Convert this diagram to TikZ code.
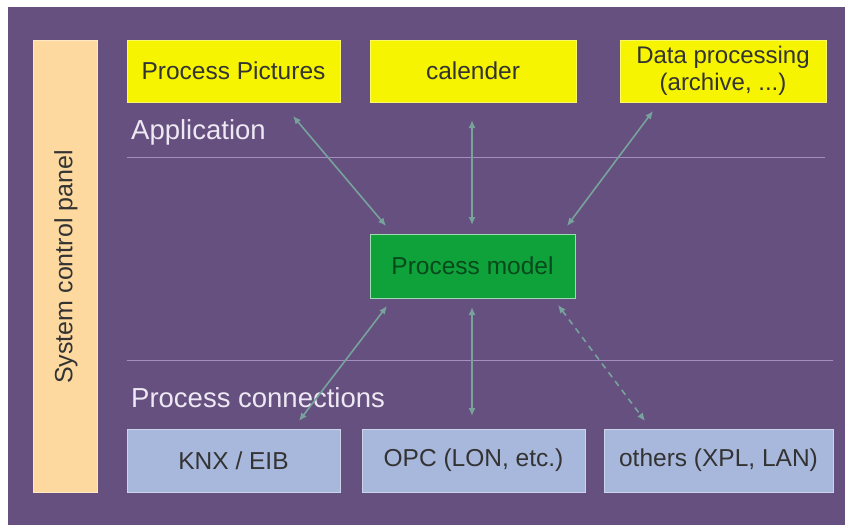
\documentclass[tikz,border=0pt]{standalone}
\usepackage{fontspec}
\setmainfont{Liberation Sans}
\usetikzlibrary{arrows.meta}
\definecolor{bgpurple}{HTML}{65507F}
\definecolor{peach}{HTML}{FDD9A0}
\definecolor{yel}{HTML}{F6F400}
\definecolor{grn}{HTML}{0FA23B}
\definecolor{lav}{HTML}{A8B8DC}
\definecolor{arr}{HTML}{77A39C}
\definecolor{txt}{HTML}{333333}
\definecolor{lbl}{HTML}{EEE8F4}
\definecolor{sep}{HTML}{A48DC0}
\tikzset{
  box/.style={draw=#1!60!white, line width=1pt, inner sep=0pt, text=txt, align=center, font=\fontsize{24.5}{27}\selectfont},
  ybox/.style={box=yel, fill=yel, minimum height=62pt},
  lbox/.style={box=lav, fill=lav, minimum height=63pt},
  seclabel/.style={anchor=west, text=lbl, inner sep=0pt, font=\fontsize{27.5}{30}\selectfont},
  link/.style={draw=arr, line width=1.6pt, {Latex[length=8pt,width=7pt]}-{Latex[length=8pt,width=7pt]}},
  sepline/.style={draw=sep, line width=1pt}
}
\begin{document}
\begin{tikzpicture}[x=1pt,y=-1pt]
\useasboundingbox (0,0) rectangle (845,525);
\fill[white] (0,0) rectangle (845,525);
\fill[bgpurple] (8,7) rectangle (845,525);
% system control panel
\node[box=peach, fill=peach, minimum width=64pt, minimum height=452pt] (scp) at (65,266) {};
\node[rotate=90, text=txt, font=\fontsize{25}{28}\selectfont] (scpt) at (66,267) {System control panel};
% top boxes
\node[ybox, minimum width=213pt] (pp) at (233.5,71) {Process Pictures};
\node[ybox, minimum width=206pt] (cal) at (473,71) {calender};
\node[ybox, minimum width=206pt, font=\fontsize{24}{27}\selectfont] (dp) at (723,71) {Data processing\\(archive, ...)};
% labels and separators
\node[seclabel] (app) at (131,132) {Application};
\coordinate (s1a) at (127,157);
\coordinate (s1b) at (825,157);
\draw[sepline] (s1a) -- (s1b);
\node[seclabel] (pc) at (131,398) {Process connections};
\coordinate (s2a) at (127,360);
\coordinate (s2b) at (833,360);
\draw[sepline] (s2a) -- (s2b);
% process model
\node[box=grn, draw=grn!40!white, fill=grn, minimum width=205pt, minimum height=64pt, text=grn!45!black] (pm) at (472.5,266) {Process model};
% bottom boxes
\node[lbox, minimum width=213pt] (knx) at (233.5,460.5) {KNX / EIB};
\node[lbox, minimum width=223pt] (opc) at (473.5,460.5) {OPC (LON, etc.)};
\node[lbox, minimum width=229pt] (oth) at (718.5,460.5) {others (XPL, LAN)};
% arrow endpoints
\coordinate (a1s) at (293,116);
\coordinate (a1e) at (386,226);
\coordinate (a2s) at (472,120);
\coordinate (a2e) at (472,225);
\coordinate (a3s) at (653,111);
\coordinate (a3e) at (567,226);
\coordinate (a4s) at (387,306);
\coordinate (a4e) at (299,421);
\coordinate (a5s) at (472,307);
\coordinate (a5e) at (472,416);
\coordinate (a6s) at (558,305);
\coordinate (a6e) at (645,421);
\draw[link] (a1s) -- (a1e);
\draw[link] (a2s) -- (a2e);
\draw[link] (a3s) -- (a3e);
\draw[link] (a4s) -- (a4e);
\draw[link] (a5s) -- (a5e);
\draw[link, dash pattern=on 6pt off 5pt] (a6s) -- (a6e);
\end{tikzpicture}
\end{document}
